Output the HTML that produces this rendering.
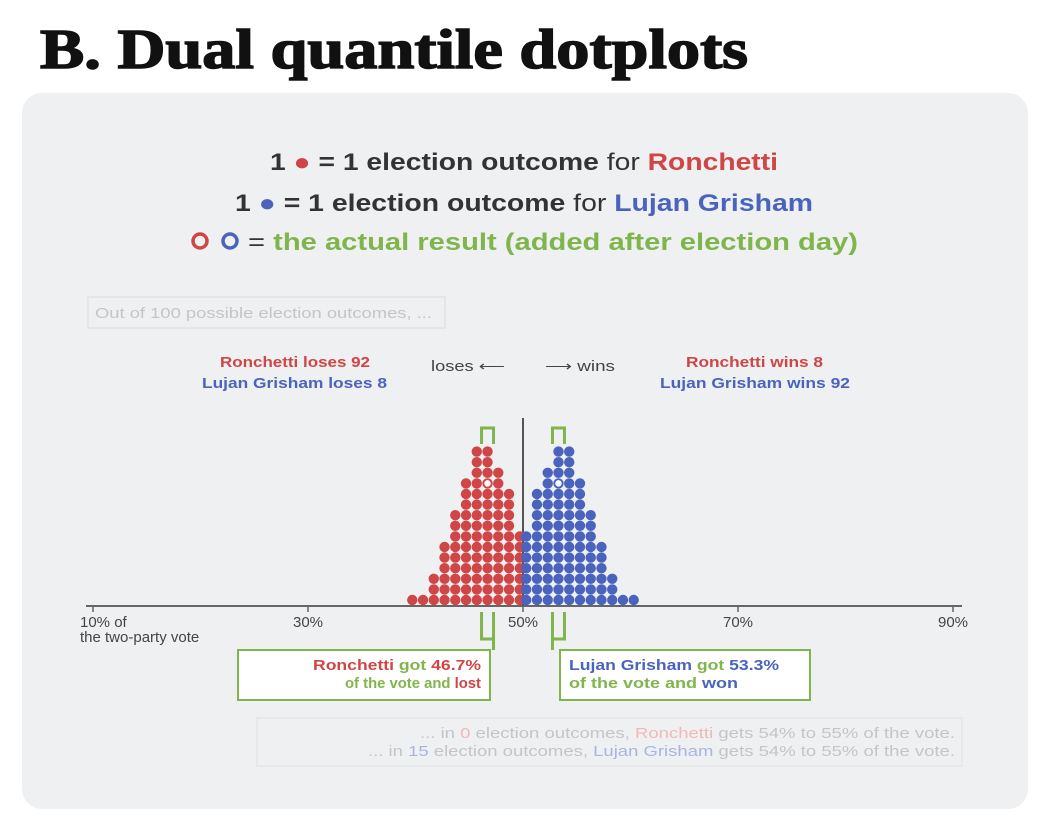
<!DOCTYPE html>
<html><head><meta charset="utf-8"><style>
body{margin:0;background:#fff;width:1046px;height:833px;overflow:hidden;font-family:"Liberation Sans",sans-serif}
</style></head><body>
<svg width="1046" height="833" xmlns="http://www.w3.org/2000/svg" font-family="Liberation Sans, sans-serif">
<text x="40" y="68" font-family="Liberation Serif, serif" font-weight="bold" font-size="56" fill="#111" textLength="708" lengthAdjust="spacingAndGlyphs" stroke="#111" stroke-width="1.5">B. Dual quantile dotplots</text>
<rect x="22" y="93" width="1006" height="716" rx="20" fill="#eff0f2"/>
<g font-size="24" font-weight="bold">
<text x="270" y="170" fill="#333" textLength="508" lengthAdjust="spacingAndGlyphs">1 <tspan fill="#d04545">●</tspan> = 1 election outcome <tspan font-weight="normal">for</tspan> <tspan fill="#d04545">Ronchetti</tspan></text>
<text x="235" y="211" fill="#333" textLength="578" lengthAdjust="spacingAndGlyphs">1 <tspan fill="#4a64bd">●</tspan> = 1 election outcome <tspan font-weight="normal">for</tspan> <tspan fill="#4a64bd">Lujan Grisham</tspan></text>
<circle cx="200" cy="241" r="7" fill="none" stroke="#d04545" stroke-width="3.5"/>
<circle cx="230" cy="241" r="7" fill="none" stroke="#4a64bd" stroke-width="3.5"/>
<text x="248" y="250" fill="#7fb54a" textLength="610" lengthAdjust="spacingAndGlyphs"><tspan fill="#333" font-weight="normal">=</tspan> the actual result (added after election day)</text>
</g>
<rect x="88" y="297" width="357" height="31" fill="none" stroke="#e2e3e6" stroke-width="1.5"/>
<text x="95" y="318" font-size="15" fill="#c4c5c8" textLength="337" lengthAdjust="spacingAndGlyphs">Out of 100 possible election outcomes, ...</text>
<g font-size="15" font-weight="bold">
<text x="220" y="367" fill="#d04545" textLength="150" lengthAdjust="spacingAndGlyphs">Ronchetti loses 92</text>
<text x="202" y="388" fill="#4a64bd" textLength="185" lengthAdjust="spacingAndGlyphs">Lujan Grisham loses 8</text>
<text x="686" y="367" fill="#d04545" textLength="137" lengthAdjust="spacingAndGlyphs">Ronchetti wins 8</text>
<text x="660" y="388" fill="#4a64bd" textLength="190" lengthAdjust="spacingAndGlyphs">Lujan Grisham wins 92</text>
</g>
<text x="431" y="371" font-size="15" fill="#444" textLength="74" lengthAdjust="spacingAndGlyphs">loses ⟵</text>
<text x="545" y="371" font-size="15" fill="#444" textLength="70" lengthAdjust="spacingAndGlyphs">⟶ wins</text>
<g id="plot"></g>
<g font-size="15" fill="#444">
<text x="80" y="627">10% of</text><text x="80" y="642">the two-party vote</text>
</g>
<rect x="238" y="650" width="252" height="50" fill="#fff" stroke="#7fb54a" stroke-width="2"/>
<text x="313" y="670" font-size="15" font-weight="bold" fill="#7fb54a" textLength="168" lengthAdjust="spacingAndGlyphs"><tspan fill="#d04545">Ronchetti</tspan> got <tspan fill="#d04545">46.7%</tspan></text>
<text x="345" y="688" font-size="15" font-weight="bold" fill="#7fb54a" textLength="136" lengthAdjust="spacingAndGlyphs">of the vote and <tspan fill="#d04545">lost</tspan></text>
<rect x="560" y="650" width="250" height="50" fill="#fff" stroke="#7fb54a" stroke-width="2"/>
<text x="569" y="670" font-size="15" font-weight="bold" fill="#7fb54a" textLength="210" lengthAdjust="spacingAndGlyphs"><tspan fill="#4a64bd">Lujan Grisham</tspan> got <tspan fill="#4a64bd">53.3%</tspan></text>
<text x="569" y="688" font-size="15" font-weight="bold" fill="#7fb54a" textLength="169" lengthAdjust="spacingAndGlyphs">of the vote and <tspan fill="#4a64bd">won</tspan></text>
<rect x="257" y="718" width="705" height="48" fill="none" stroke="#e4e5e8" stroke-width="1.5"/>
<g font-size="15" fill="#c4c5c8">
<text x="420" y="738" textLength="535" lengthAdjust="spacingAndGlyphs">... in <tspan fill="#f0b8b8">0</tspan> election outcomes, <tspan fill="#f0b8b8">Ronchetti</tspan> gets 54% to 55% of the vote.</text>
<text x="368" y="756" textLength="587" lengthAdjust="spacingAndGlyphs">... in <tspan fill="#a9b5df">15</tspan> election outcomes, <tspan fill="#a9b5df">Lujan Grisham</tspan> gets 54% to 55% of the vote.</text>
</g>
</svg>
<script>
const redBins=[39.7,40.7,41.7,42.7,43.7,44.7,45.7,46.7,47.7,48.7,49.7];
const redCounts=[1,1,3,6,9,12,15,15,13,11,7];
const blueBins=[50.3,51.3,52.3,53.3,54.3,55.3,56.3,57.3,58.3,59.3,60.3];
const blueCounts=[7,11,13,15,15,12,9,6,3,1,1];
const ticks=[10,30,50,70,90];
const actual=[46.7,53.3];
const NS="http://www.w3.org/2000/svg";
const X=v=>93+(v-10)*10.75;
const Y=r=>600-r*10.6;
const g=document.getElementById('plot');
function mk(t,a){const e=document.createElementNS(NS,t);for(const k in a)e.setAttribute(k,a[k]);g.appendChild(e);return e;}
let ax=mk('line',{x1:86,x2:962,y1:606,y2:606,stroke:'#666','stroke-width':2});


ticks.forEach(t=>{
 const l=mk('line',{x1:X(t),x2:X(t),y1:606,y2:612,stroke:'#666','stroke-width':1.5});
 
 
 if(t>10){const tx=mk('text',{x:X(t),y:627,'font-size':15,fill:'#444','text-anchor':'middle'});tx.textContent=t+'%';
 
 }
});
let cl=mk('line',{x1:X(50),x2:X(50),y1:418,y2:606,stroke:'#555','stroke-width':2});


actual.forEach(v=>{
 const x=X(v);
 const p=mk('path',{d:`M${x-6},444 V428 H${x+6} V444`,fill:'none',stroke:'#7fb54a','stroke-width':3});
 
 
 const q=mk('path',{d:`M${x-6},612 V639 H${x+6} V612 M${x+(v<50?6:-6)},639 V650`,fill:'none',stroke:'#7fb54a','stroke-width':3});
 
 
});
function dots(bins,counts,col,name){
 bins.forEach((b,i)=>{for(let r=0;r<counts[i];r++){
  const c=mk('circle',{cx:X(b),cy:Y(r),r:5.2,fill:col});
  
  
 }});
}
dots(redBins,redCounts,'#d04545','red-dot');
dots(blueBins,blueCounts,'#4a64bd','blue-dot');
actual.forEach(v=>{
 const c=mk('circle',{cx:X(v),cy:Y(11),r:4,fill:'#fff',stroke:v<50?'#d04545':'#4a64bd','stroke-width':1.5});
 
 
});
</script>
</body></html>
